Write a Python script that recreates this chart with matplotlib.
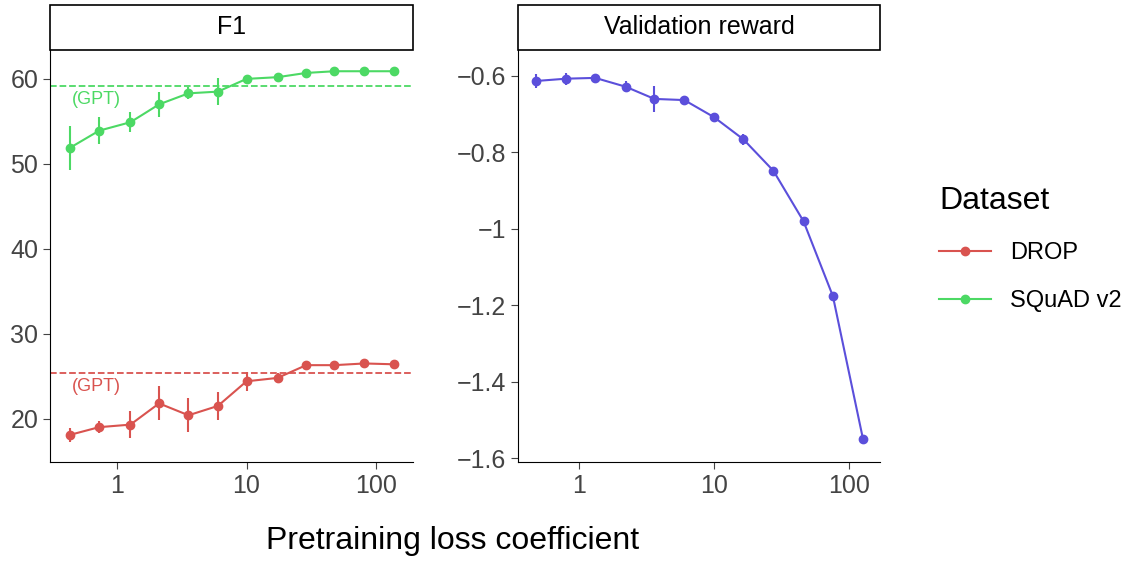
import matplotlib.pyplot as plt
from matplotlib.patches import Rectangle
from matplotlib.lines import Line2D

x_left = [0.43, 0.72, 1.26, 2.1, 3.55, 6.0, 10, 17.4, 29, 48, 82, 140]
squad = [51.9, 53.9, 54.9, 57.0, 58.3, 58.5, 60.0, 60.2, 60.7, 60.9, 60.9, 60.9]
squad_err = [2.6, 1.6, 1.2, 1.5, 0.7, 1.6, 0.4, 0.5, 0.3, 0.3, 0.3, 0.3]
drop = [18.1, 19.0, 19.3, 21.8, 20.4, 21.5, 24.4, 24.8, 26.3, 26.3, 26.5, 26.4]
drop_err = [0.8, 0.7, 1.6, 2.0, 2.0, 1.6, 1.1, 0.6, 0.3, 0.3, 0.3, 0.3]
gpt_squad = 59.2
gpt_drop = 25.4

x_right = [0.48, 0.8, 1.31, 2.2, 3.6, 6.0, 10, 16.5, 27.5, 46, 76, 127]
reward = [-0.613, -0.607, -0.605, -0.628, -0.66, -0.663, -0.708, -0.766, -0.848, -0.98, -1.176, -1.549]
reward_err = [0.018, 0.016, 0.008, 0.015, 0.035, 0.008, 0.012, 0.015, 0.008, 0.008, 0.008, 0.008]

RED = '#d9534f'
GREEN = '#4cd964'
BLUE = '#5b4fdb'

plt.rcParams['font.family'] = 'Liberation Sans'
fig = plt.figure(figsize=(11.44, 5.63), dpi=100)
W, H = 1144, 563
ax1 = fig.add_axes([50 / W, 1 - 462 / H, 363 / W, 412 / H])
ax2 = fig.add_axes([518 / W, 1 - 462 / H, 362 / W, 412 / H])

def style(ax, title):
    ax.set_xscale('log')
    for s in ['top', 'right']:
        ax.spines[s].set_visible(False)
    ax.tick_params(labelsize=18, colors='#444444', length=5)
    ax.tick_params(axis='x', which='minor', length=0)
    ax.set_xticks([1, 10, 100])
    ax.set_xticklabels(['1', '10', '100'])
    ax.add_patch(Rectangle((0, 1.0), 1, 0.11, transform=ax.transAxes, clip_on=False,
                           facecolor='white', edgecolor='black', lw=1.2))
    ax.text(0.5, 1.055, title, transform=ax.transAxes, ha='center', va='center', fontsize=18)

ax1.errorbar(x_left, squad, yerr=squad_err, color=GREEN, marker='o', ms=6, lw=1.5)
ax1.errorbar(x_left, drop, yerr=drop_err, color=RED, marker='o', ms=6, lw=1.5)
ax1.axhline(gpt_squad, color=GREEN, ls='--', lw=1.3)
ax1.axhline(gpt_drop, color=RED, ls='--', lw=1.3)
ax1.text(0.44, gpt_squad - 0.6, '(GPT)', color=GREEN, fontsize=13, va='top')
ax1.text(0.44, gpt_drop - 0.6, '(GPT)', color=RED, fontsize=13, va='top')
ax1.set_xlim(0.30, 195)
ax1.set_ylim(14.9, 63.4)
ax1.set_yticks([20, 30, 40, 50, 60])
style(ax1, 'F1')

ax2.errorbar(x_right, reward, yerr=reward_err, color=BLUE, marker='o', ms=6, lw=1.5)
ax2.set_xlim(0.35, 170)
ax2.set_ylim(-1.61, -0.532)
ax2.set_yticks([-1.6, -1.4, -1.2, -1, -0.8, -0.6])
ax2.set_yticklabels(['\u22121.6', '\u22121.4', '\u22121.2', '\u22121', '\u22120.8', '\u22120.6'])
style(ax2, 'Validation reward')

fig.text(453 / W, 1 - 541 / H, 'Pretraining loss coefficient', ha='center', va='center', fontsize=23)

handles = [Line2D([], [], color=RED, marker='o', ms=6, lw=1.5),
           Line2D([], [], color=GREEN, marker='o', ms=6, lw=1.5)]
leg = fig.legend(handles, ['DROP', 'SQuAD v2'], title='Dataset', loc='upper left',
                 bbox_to_anchor=(918 / W, 1 - 165 / H), frameon=False, fontsize=17,
                 title_fontsize=23, handlelength=2.2, labelspacing=1.1)
leg._legend_box.align = 'left'

fig.savefig('out.png', dpi=100)
